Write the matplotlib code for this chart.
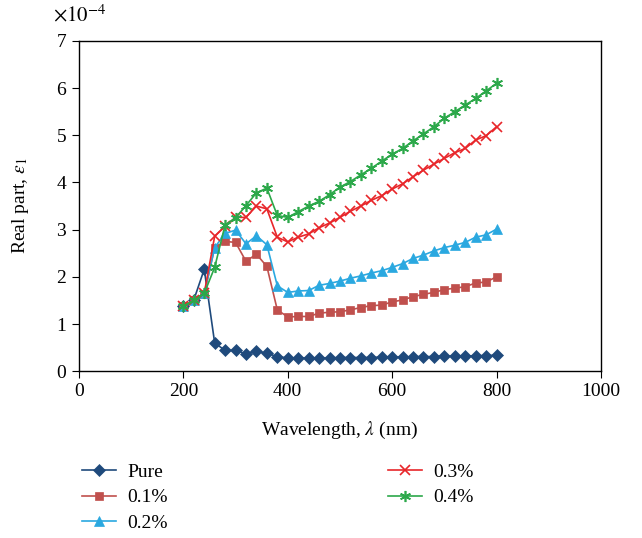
import numpy as np
import matplotlib
matplotlib.use('Agg')
import matplotlib.pyplot as plt
from matplotlib.ticker import ScalarFormatter

plt.rcParams['font.family'] = ['Liberation Serif', 'DejaVu Serif']
plt.rcParams['mathtext.fontset'] = 'stix'
plt.rcParams['font.size'] = 14

wavelength = list(range(200, 801, 20))

pure = [1.38, 1.51, 2.16, 0.60, 0.44, 0.44, 0.37, 0.42, 0.38, 0.31, 0.28,
        0.28, 0.28, 0.28, 0.28, 0.29, 0.29, 0.29, 0.29, 0.30, 0.30, 0.30,
        0.31, 0.31, 0.31, 0.32, 0.32, 0.32, 0.33, 0.33, 0.34]
p01 = [1.38, 1.50, 1.63, 2.62, 2.75, 2.73, 2.33, 2.48, 2.22, 1.30, 1.15,
       1.16, 1.16, 1.23, 1.25, 1.26, 1.30, 1.35, 1.39, 1.40, 1.47, 1.51,
       1.58, 1.63, 1.67, 1.73, 1.76, 1.79, 1.87, 1.89, 2.00]
p02 = [1.38, 1.50, 1.65, 2.62, 2.92, 2.99, 2.70, 2.87, 2.68, 1.81, 1.67,
       1.70, 1.71, 1.82, 1.86, 1.91, 1.97, 2.02, 2.08, 2.13, 2.20, 2.28,
       2.39, 2.46, 2.55, 2.62, 2.67, 2.73, 2.84, 2.89, 3.01]
p03 = [1.38, 1.50, 1.65, 2.86, 3.07, 3.26, 3.26, 3.50, 3.44, 2.84, 2.74,
       2.84, 2.91, 3.04, 3.14, 3.26, 3.39, 3.50, 3.62, 3.72, 3.86, 3.97,
       4.12, 4.26, 4.39, 4.51, 4.63, 4.72, 4.90, 4.99, 5.18]
p04 = [1.38, 1.50, 1.65, 2.20, 3.10, 3.25, 3.51, 3.78, 3.88, 3.30, 3.26,
       3.38, 3.50, 3.60, 3.74, 3.90, 4.02, 4.16, 4.30, 4.45, 4.60, 4.72,
       4.88, 5.03, 5.18, 5.36, 5.50, 5.64, 5.78, 5.94, 6.10]

series = [
    ('Pure', pure, '#1f4a7c', 'D', 6),
    ('0.1%', p01, '#c0504d', 's', 6),
    ('0.2%', p02, '#2aa8e0', '^', 7.5),
    ('0.3%', p03, '#e8262a', 'x', 7),
    ('0.4%', p04, '#2ca84a', (6, 2, 0), 8),
]

fig = plt.figure(figsize=(6.42, 5.38), dpi=100)
ax = fig.add_axes([0.123, 0.310, 0.813, 0.614])

for name, vals, color, marker, ms in series:
    thin = marker in ('x', (6, 2, 0))
    ax.plot(wavelength, np.array(vals) * 1e-4, color=color, marker=marker,
            markersize=ms, linewidth=1.2, markeredgewidth=1.2 if thin else 0.5,
            label=name)

ax.set_xlim(0, 1000)
ax.set_ylim(0, 7e-4)
ax.set_xticks(range(0, 1001, 200))
ax.set_yticks(np.arange(0, 8) * 1e-4)
fmt = ScalarFormatter(useMathText=True)
fmt.set_powerlimits((-3, 3))
ax.yaxis.set_major_formatter(fmt)
ax.yaxis.get_offset_text().set_visible(False)
ax.text(-0.05, 1.045, r'$\times10^{-4}$', transform=ax.transAxes,
        ha='left', va='bottom', fontsize=15)
ax.tick_params(direction='out', length=5, top=False, right=False)
for s in ax.spines.values():
    s.set_linewidth(1.0)

ax.set_xlabel(r'Wavelength, $\lambda$ (nm)', labelpad=14)
ax.set_ylabel(r'Real part, $\varepsilon_1$', labelpad=18)

fig.legend(loc='upper left', bbox_to_anchor=(0.115, 0.154), ncol=2,
           frameon=False, handlelength=1.75, columnspacing=11.3,
           labelspacing=0.42, handletextpad=0.6, borderaxespad=0)

fig.savefig('out.png', dpi=100)
